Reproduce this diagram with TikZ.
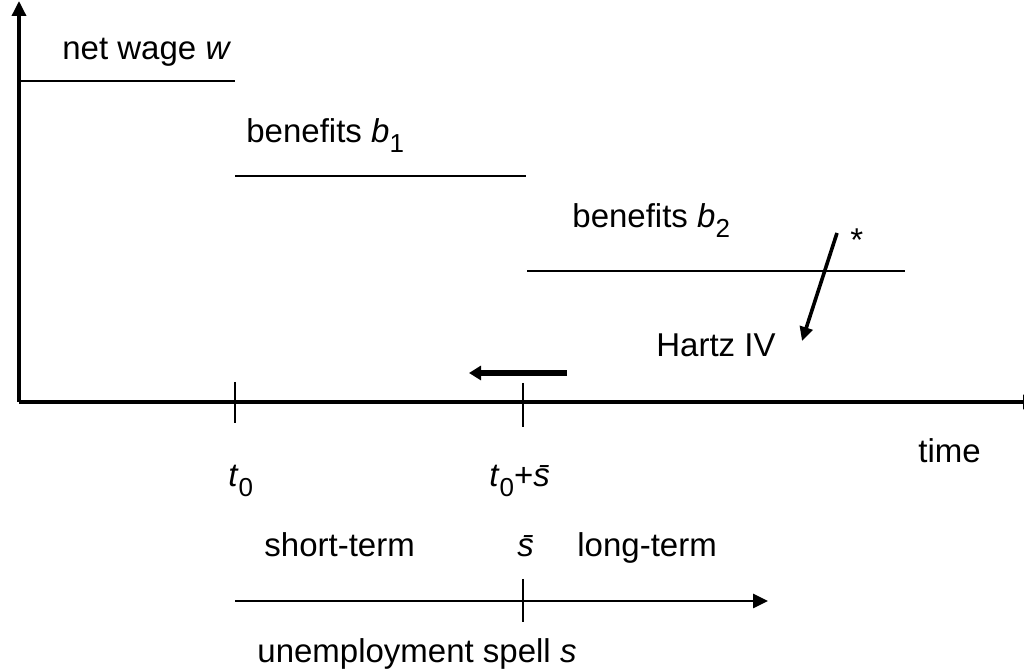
\documentclass[tikz,border=0pt]{standalone}
\usepackage{fontspec}
\setmainfont{Liberation Sans}
\usetikzlibrary{arrows.meta}

\newcommand{\lowsub}[1]{\raisebox{-0.3em}{\fontsize{13}{13}\selectfont #1}}
\newcommand{\sbar}{\textit{\={s}}}

\tikzset{
  lbl/.style={anchor=base west, inner sep=0pt, font=\fontsize{16.5}{19}\selectfont},
  axis/.style={line width=1.7pt},
  level/.style={line width=1.3pt},
  tick/.style={line width=1.3pt},
}

\begin{document}
\begin{tikzpicture}[x=0.5pt, y=-0.5pt]

  \useasboundingbox (0,0) rectangle (1024,672);

  % -- Axes --
  \coordinate (O) at (19,402);
  \coordinate (ytop) at (19,1);
  \coordinate (xend) at (1038,402);
  \draw[axis, -{Triangle[length=7.5pt, width=7pt]}] (O) -- (ytop);
  \draw[axis, -{Triangle[length=7.5pt, width=7pt]}] (O) -- (xend);

  % -- Income levels --
  \coordinate (w0) at (19,81);    \coordinate (w1) at (235,81);
  \coordinate (b10) at (235,176); \coordinate (b11) at (526,176);
  \coordinate (b20) at (527,271); \coordinate (b21) at (905,271);
  \draw[level] (w0) -- (w1);
  \draw[level] (b10) -- (b11);
  \draw[level] (b20) -- (b21);

  \node[lbl] (wage) at (62,60) {net wage \textit{w}};
  \node[lbl] (ben1) at (246,143) {benefits \textit{b}\lowsub{1}};
  \node[lbl] (ben2) at (572,228) {benefits \textit{b}\lowsub{2}};

  % -- Hartz IV cut --
  \coordinate (h0) at (837,233);
  \coordinate (h1) at (802,341);
  \draw[line width=1.8pt, -{Triangle[length=7pt, width=6.5pt]}] (h0) -- (h1);
  \node[lbl] (star) at (850,252) {*};
  \node[lbl] (hartz) at (656,357) {Hartz IV};

  % -- Shift arrow --
  \coordinate (s0) at (567,373);
  \coordinate (s1) at (469,373);
  \draw[line width=3pt, -{Triangle[length=6pt, width=7pt]}] (s0) -- (s1);

  % -- Ticks on time axis --
  \coordinate (t0a) at (235,382); \coordinate (t0b) at (235,423);
  \coordinate (t1a) at (523,383); \coordinate (t1b) at (523,427);
  \draw[tick] (t0a) -- (t0b);
  \draw[tick] (t1a) -- (t1b);

  \node[lbl] (tzero) at (228,487) {\textit{t}\lowsub{0}};
  \node[lbl] (tsbar) at (489,487) {\textit{t}\lowsub{0}+\sbar};
  \node[lbl] (time) at (918,463) {time};

  % -- Unemployment spell axis --
  \coordinate (u0) at (235,601);
  \coordinate (u1) at (768,601);
  \draw[level, -{Triangle[length=7.5pt, width=7pt]}] (u0) -- (u1);
  \coordinate (ua) at (523,579); \coordinate (ub) at (523,622);
  \draw[tick] (ua) -- (ub);

  \node[lbl] (short) at (264,557) {short-term};
  \node[lbl] (sb) at (517,557) {\sbar};
  \node[lbl] (long) at (577,557) {long-term};
  \node[lbl] (spell) at (257,663) {unemployment spell \textit{s}};

\end{tikzpicture}
\end{document}
